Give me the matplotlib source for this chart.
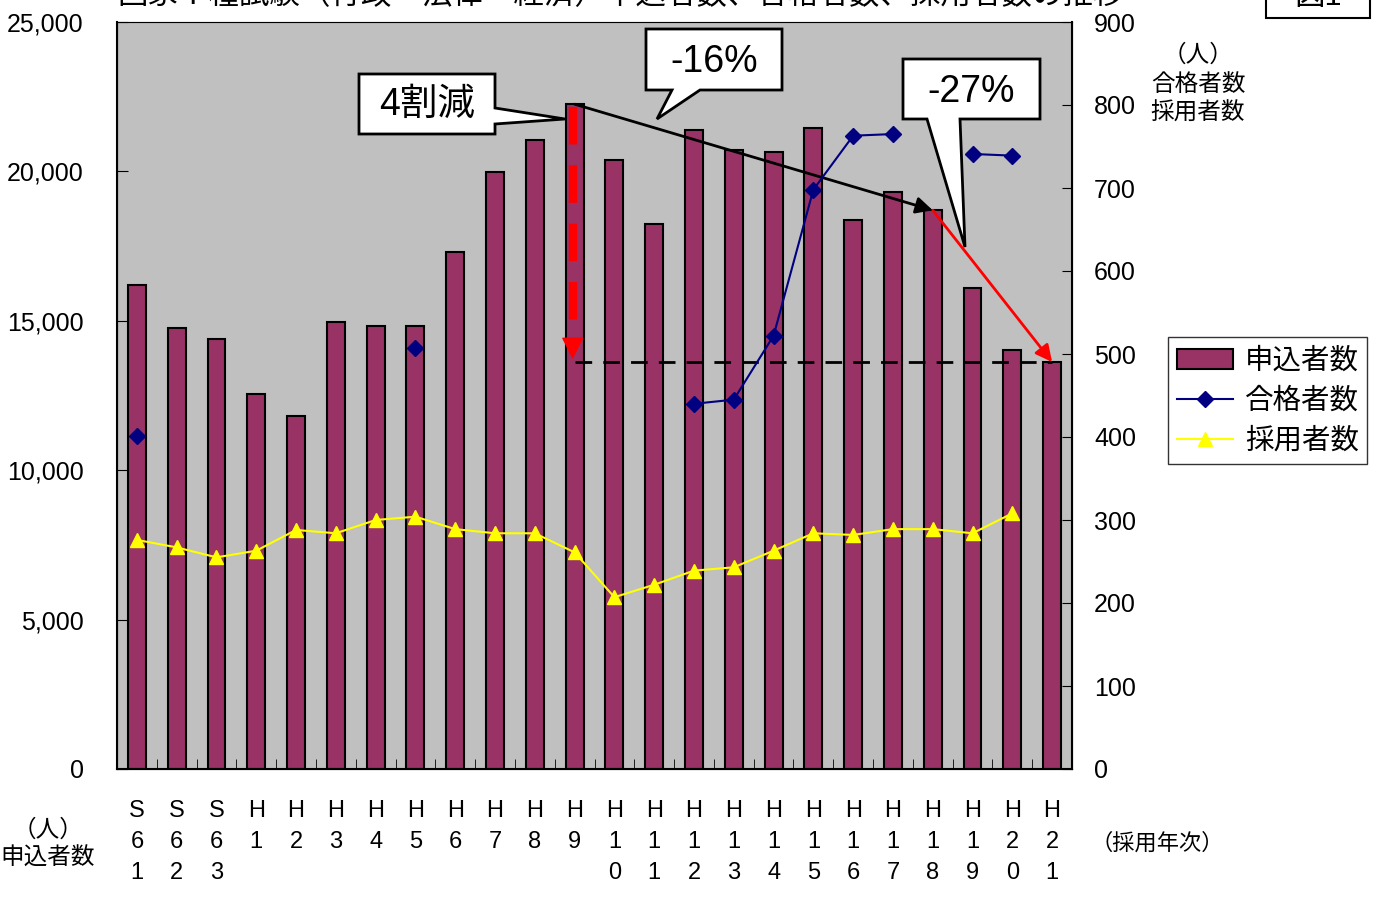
import matplotlib
matplotlib.use('Agg')
import matplotlib.pyplot as plt
import numpy as np
from matplotlib.patches import Polygon, Rectangle

plt.rcParams['font.family'] = ['Liberation Sans', 'Noto Sans CJK JP', 'DejaVu Sans']

# ============================================
# DATA
# ============================================

years = ['S61', 'S62', 'S63', 'H1', 'H2', 'H3', 'H4', 'H5', 'H6', 'H7', 'H8', 'H9',
         'H10', 'H11', 'H12', 'H13', 'H14', 'H15', 'H16', 'H17', 'H18', 'H19', 'H20', 'H21']

applicants = [16200, 14750, 14400, 12550, 11800, 14950, 14820, 14820, 17300, 19980,
              21050, 22250, 20380, 18250, 21380, 20720, 20650, 21450, 18380, 19320,
              18700, 16100, 14020, 13620]

passed = [401, np.nan, np.nan, np.nan, np.nan, np.nan, np.nan, 507, np.nan, np.nan,
          np.nan, np.nan, np.nan, np.nan, 440, 445, 522, 698, 763, 765,
          np.nan, 741, 739, np.nan]

hired = [276, 267, 255, 263, 288, 284, 300, 304, 289, 284, 284, 261,
         207, 222, 239, 243, 263, 284, 282, 289, 289, 284, 308, np.nan]

tick_labels = ['\n'.join(list(y)) for y in years]

COLORS = {
    'bar':    '#993366',
    'bg':     '#C0C0C0',
    'passed': '#000080',
    'hired':  '#FFFF00',
}

W, H = 1374, 901
CJK = ['Noto Sans CJK JP']


def fx(px):
    return px / W


def fy(py):
    return 1 - py / H


# ============================================
# PLOT
# ============================================

fig = plt.figure(figsize=(W / 100, H / 100), dpi=100)
ax = fig.add_axes([fx(117), fy(769), fx(1072) - fx(117), fy(22) - fy(769)])
ax.set_facecolor(COLORS['bg'])

x = np.arange(len(years))
bars = ax.bar(x, applicants, width=0.45, color=COLORS['bar'], edgecolor='black',
              linewidth=1.5, zorder=2, label='申込者数')

ax.set_xlim(-0.5, len(years) - 0.5)
ax.set_ylim(0, 25000)
ax.set_yticks(np.arange(0, 25001, 5000))
ax.set_yticklabels([f'{v:,}' for v in range(0, 25001, 5000)], fontsize=18)
ax.tick_params(axis='y', direction='in', length=8, pad=24)
ax.set_xticks(x)
ax.set_xticklabels(tick_labels, fontsize=17, linespacing=1.55, va='top')
ax.tick_params(axis='x', which='major', length=0, pad=22)
ax.set_xticks(np.arange(-0.5, len(years)), minor=True)
ax.tick_params(axis='x', which='minor', direction='in', length=7)
ax.spines['top'].set_color('#808080')
for s in ('left', 'bottom', 'right'):
    ax.spines[s].set_linewidth(1.5)

ax2 = ax.twinx()
ax2.set_ylim(0, 900)
ax2.set_yticks(np.arange(0, 901, 100))
ax2.tick_params(axis='y', direction='in', length=7, labelsize=18, pad=16)
ax2.plot(x, passed, color=COLORS['passed'], marker='D', markersize=8,
         linewidth=1.5, label='合格者数', zorder=3)
ax2.plot(x, hired, color=COLORS['hired'], marker='^', markersize=10,
         linewidth=1.5, label='採用者数', zorder=3)

# annotations: reduction lines
i9, i18, i21 = years.index('H9'), years.index('H18'), years.index('H21')
ax.plot([i9, i21], [applicants[i21], applicants[i21]], color='black',
        linestyle=(0, (6, 4)), linewidth=2, zorder=4)
ax.plot([i9 - 0.05, i9 - 0.05], [applicants[i9] - 100, applicants[i21] + 1300], color='red',
        linewidth=6, dashes=(4.5, 2.5), zorder=5)
ax.annotate('', xy=(i9 - 0.05, applicants[i21]), xytext=(i9 - 0.05, applicants[i21] + 900),
            arrowprops=dict(arrowstyle='-|>', color='red', lw=1, mutation_scale=35),
            zorder=5)
ax.annotate('', xy=(i18, applicants[i18]), xytext=(i9, applicants[i9]),
            arrowprops=dict(arrowstyle='-|>', color='black', lw=2, mutation_scale=25,
                            shrinkA=0, shrinkB=0), zorder=5)
ax.annotate('', xy=(i21, applicants[i21]), xytext=(i18, applicants[i18]),
            arrowprops=dict(arrowstyle='-|>', color='red', lw=2, mutation_scale=25,
                            shrinkA=0, shrinkB=0), zorder=5)


def callout(pts, text, tx, ty):
    poly = Polygon([(fx(a), fy(b)) for a, b in pts], closed=True, facecolor='white',
                   edgecolor='black', linewidth=2, transform=fig.transFigure, zorder=10)
    fig.patches.append(poly)
    fig.text(fx(tx), fy(ty), text, fontsize=27, ha='center', va='center', zorder=11,
             family=['Liberation Sans', 'Noto Sans CJK JP'])


callout([(359, 74), (495, 74), (495, 108), (565, 119), (495, 124), (495, 134), (359, 134)],
        '4割減', 427, 105)
callout([(646, 29), (782, 29), (782, 90), (700, 90), (657, 119), (672, 90), (646, 90)],
        '-16%', 714, 62)
callout([(903, 59), (1040, 59), (1040, 119), (960, 119), (965, 247), (927, 119), (903, 119)],
        '-27%', 971, 92)

# legend
h1, l1 = ax.get_legend_handles_labels()
h2, l2 = ax2.get_legend_handles_labels()
leg = fig.legend(h1 + h2, l1 + l2, loc='upper left', bbox_to_anchor=(fx(1168), fy(337)),
                 frameon=True, fancybox=False, edgecolor='black',
                 handlelength=2.0, handletextpad=0.4, borderpad=0.3, labelspacing=0.35,
                 borderaxespad=0, prop={'family': CJK, 'size': 20.5})
leg.get_frame().set_linewidth(1)

# axis captions
for txt, py in [('（人）', 830), ('申込者数', 858)]:
    fig.text(fx(48), fy(py), txt, fontsize=17, ha='center', va='center', family=CJK)
fig.text(fx(1157), fy(843), '（採用年次）', fontsize=16, ha='center', va='center', family=CJK)
for txt, py in [('（人）', 55), ('合格者数', 84), ('採用者数', 113)]:
    fig.text(fx(1198), fy(py), txt, fontsize=17, ha='center', va='center', family=CJK)

# title (cut off at top of the page, as in the source)
fig.text(fx(117), fy(-4), '国家Ⅰ種試験（行政・法律・経済）申込者数、合格者数、採用者数の推移',
         fontsize=22, ha='left', va='center')
fig.patches.append(Rectangle((fx(1266), fy(18)), fx(1370) - fx(1266), fy(-30) - fy(18),
                             facecolor='white', edgecolor='black', linewidth=1.5,
                             transform=fig.transFigure))
fig.text(fx(1318), fy(-3), '図1', fontsize=22, ha='center', va='center')

plt.savefig('out.png', dpi=100, facecolor='white')
